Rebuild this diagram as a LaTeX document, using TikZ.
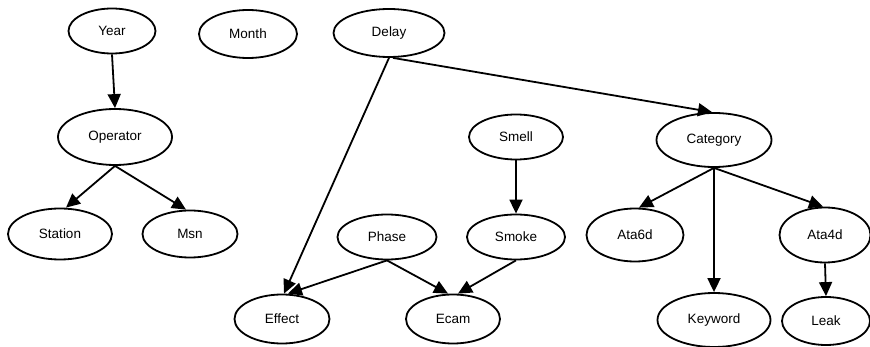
\documentclass[tikz,border=0pt]{standalone}
\usepackage{fontspec}
\setmainfont{Liberation Sans}
\usetikzlibrary{shapes.geometric,arrows.meta}
\begin{document}
\begin{tikzpicture}[x=1pt,y=-1pt,
  nd/.style={draw,ellipse,line width=1.8pt,inner sep=0pt,font=\fontsize{13.5}{15}\selectfont},
  ed/.style={line width=1.8pt,-{Triangle[length=14pt,width=13pt]}}]
\useasboundingbox (0,0) rectangle (870,347);
\node[nd,minimum width=87pt,minimum height=45pt] (year) at (112,31) {Year};
\node[nd,minimum width=98pt,minimum height=48pt] (month) at (248,34) {Month};
\node[nd,minimum width=111pt,minimum height=48pt] (delay) at (389,33) {Delay};
\node[nd,minimum width=114pt,minimum height=56pt] (operator) at (115,137) {Operator};
\node[nd,minimum width=94pt,minimum height=45pt] (smell) at (516,137) {Smell};
\node[nd,minimum width=115pt,minimum height=54pt] (category) at (714,140) {Category};
\node[nd,minimum width=104pt,minimum height=51pt] (station) at (60,234) {Station};
\node[nd,minimum width=95pt,minimum height=47pt] (msn) at (190,234) {Msn};
\node[nd,minimum width=99pt,minimum height=45pt] (phase) at (387,237) {Phase};
\node[nd,minimum width=98pt,minimum height=45pt] (smoke) at (516,237) {Smoke};
\node[nd,minimum width=97pt,minimum height=53pt] (ata6d) at (635,235) {Ata6d};
\node[nd,minimum width=91pt,minimum height=55pt] (ata4d) at (825,235) {Ata4d};
\node[nd,minimum width=95pt,minimum height=49pt] (effect) at (282,319) {Effect};
\node[nd,minimum width=94pt,minimum height=49pt] (ecam) at (453,319) {Ecam};
\node[nd,minimum width=113pt,minimum height=54pt] (keyword) at (714,320) {Keyword};
\node[nd,minimum width=88pt,minimum height=48pt] (leak) at (826,321) {Leak};
\draw[ed] (year.south) -- (operator.north);
\draw[ed] (operator.south) -- ([xshift=6pt]station.north);
\draw[ed] (operator.south) -- ([xshift=-4pt]msn.north);
\draw[ed] (delay.south) -- ([xshift=2pt]effect.north);
\draw[ed] ([xshift=4pt]delay.south) -- ([xshift=-2pt]category.north);
\draw[ed] (smell.south) -- (smoke.north);
\draw[ed] (phase.south) -- ([xshift=6pt]effect.north);
\draw[ed] (phase.south) -- ([xshift=-5pt]ecam.north);
\draw[ed] (smoke.south) -- ([xshift=5pt]ecam.north);
\draw[ed] (category.south) -- ([xshift=4pt]ata6d.north);
\draw[ed] (category.south) -- (keyword.north);
\draw[ed] (category.south) -- ([xshift=-2pt]ata4d.north);
\draw[ed] (ata4d.south) -- (leak.north);
\end{tikzpicture}
\end{document}
